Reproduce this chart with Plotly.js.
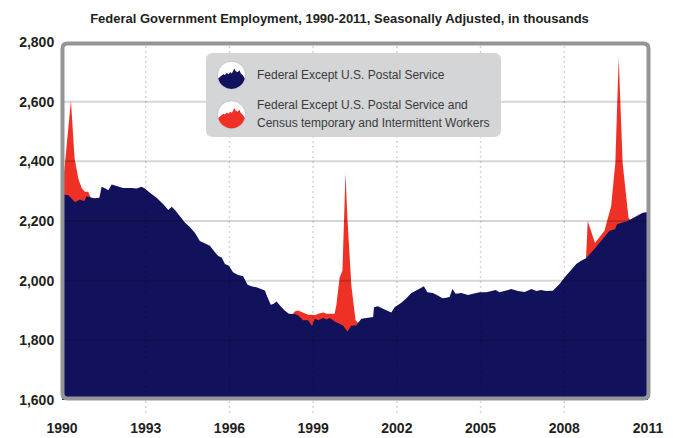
<!DOCTYPE html>
<html>
<head>
<meta charset="utf-8">
<script src="https://cdn.plot.ly/plotly-3.0.1.min.js"></script>
<style>
  html, body { margin: 0; padding: 0; background: #ffffff; }
  #chart { width: 673px; height: 438px; }
</style>
</head>
<body>
<div id="chart"></div>
<script>
// ---- Data, values in thousands ----
const exPostalYears = [1990.00,1990.23,1990.47,1990.64,1990.79,1990.88,1991.00,1991.15,1991.34,1991.42,1991.54,1991.66,1991.78,1991.96,1992.19,1992.50,1992.67,1992.85,1992.97,1993.15,1993.39,1993.63,1993.81,1993.93,1994.05,1994.22,1994.40,1994.58,1994.76,1994.94,1995.12,1995.30,1995.48,1995.60,1995.72,1995.84,1995.98,1996.13,1996.31,1996.49,1996.65,1996.79,1996.97,1997.15,1997.27,1997.36,1997.48,1997.57,1997.69,1997.81,1997.98,1998.13,1998.28,1998.34,1998.46,1998.64,1998.82,1998.96,1999.06,1999.18,1999.36,1999.48,1999.60,1999.77,1999.95,2000.07,2000.23,2000.37,2000.55,2000.61,2000.73,2000.97,2001.15,2001.18,2001.32,2001.56,2001.80,2001.92,2002.16,2002.34,2002.52,2002.76,2002.97,2003.09,2003.29,2003.47,2003.63,2003.77,2003.89,2003.99,2004.11,2004.31,2004.55,2004.73,2004.97,2005.21,2005.39,2005.54,2005.68,2005.86,2006.10,2006.34,2006.58,2006.82,2007.00,2007.17,2007.35,2007.59,2007.71,2007.83,2008.01,2008.22,2008.43,2008.60,2008.78,2009.08,2009.44,2009.62,2009.82,2009.89,2010.27,2010.58,2010.81,2011.00];
const exPostalValues = [2290,2286,2263,2272,2266,2283,2280,2276,2278,2315,2310,2303,2322,2317,2311,2311,2309,2315,2309,2295,2278,2256,2237,2248,2237,2217,2195,2180,2161,2133,2126,2117,2095,2083,2078,2056,2050,2028,2019,2015,1986,1981,1978,1970,1967,1945,1919,1922,1930,1917,1900,1889,1889,1888,1884,1867,1867,1848,1872,1867,1875,1870,1875,1863,1856,1850,1830,1850,1850,1859,1872,1875,1878,1911,1914,1903,1893,1911,1926,1941,1959,1970,1981,1961,1959,1950,1941,1943,1945,1972,1956,1959,1952,1956,1961,1961,1965,1969,1961,1965,1972,1965,1962,1972,1965,1969,1965,1966,1978,1989,2011,2035,2056,2067,2075,2106,2145,2167,2172,2189,2200,2217,2228,2230];

// Series including Census temporary and intermittent workers (only where it differs; null = break)
const censusYears  = [1990.00,1990.32,1990.45,1990.59,1990.71,1990.82,1990.94,1991.03,null,
                      1998.28,1998.34,1998.46,1998.64,1998.82,1998.96,1999.06,1999.18,1999.36,1999.48,1999.60,1999.77,1999.83,1999.95,2000.05,2000.16,2000.23,2000.37,2000.52,2000.61,null,
                      2008.78,2008.84,2009.10,2009.44,2009.68,2009.83,2009.95,2010.09,2010.30,2010.40];
const censusValues = [2290,2603,2410,2340,2310,2298,2298,2278,null,
                      1889,1897,1900,1893,1886,1886,1884,1889,1893,1889,1890,1889,1917,2011,2033,2361,2206,1983,1867,1858,null,
                      2075,2200,2126,2167,2250,2395,2748,2395,2211,2200];

const yearTicks = [1990,1993,1996,1999,2002,2005,2008,2011];
const yearLabels = ['1990','1993','1996','1999','2002','2005','2008','2011'];
const valueTicks = [1600,1800,2000,2200,2400,2600,2800];
const valueLabels = ['1,600','1,800','2,000','2,200','2,400','2,600','2,800'];

const seriesNames = ['Federal Except U.S. Postal Service',
                     'Federal Except U.S. Postal Service and',
                     'Census temporary and Intermittent Workers'];

// ---- Styling / geometry ----
const NAVY = '#12125c';
const RED = '#ee3124';
const W = 673, H = 438;
const PL = 62, PR = 648, PT = 42, PB = 400;   // plot area in pixels
const FONT = '"Liberation Sans", Arial, sans-serif';

function P(x, y) { return [(x - PL) / (PR - PL), (PB - y) / (PB - PT)]; }
function pt(x, y) { const p = P(x, y); return p[0].toFixed(5) + ',' + p[1].toFixed(5); }
function roundRect(x0, y0, x1, y1, r) {
  return 'M' + pt(x0 + r, y0) + ' L' + pt(x1 - r, y0) + ' Q' + pt(x1, y0) + ' ' + pt(x1, y0 + r) +
         ' L' + pt(x1, y1 - r) + ' Q' + pt(x1, y1) + ' ' + pt(x1 - r, y1) +
         ' L' + pt(x0 + r, y1) + ' Q' + pt(x0, y1) + ' ' + pt(x0, y1 - r) +
         ' L' + pt(x0, y0 + r) + ' Q' + pt(x0, y0) + ' ' + pt(x0 + r, y0) + ' Z';
}
function circlePath(cx, cy, r) {
  let s = '';
  for (let i = 0; i <= 48; i++) {
    const a = i / 48 * Math.PI * 2;
    s += (i === 0 ? 'M' : ' L') + pt(cx + r * Math.cos(a), cy + r * Math.sin(a));
  }
  return s + ' Z';
}
// mountain silhouette icon (relative pixel offsets, y down)
const ridge = [[-13.3,3.3],[-10.7,1],[-8,-1],[-6.5,-0.3],[-4.7,-2.3],[-2.7,-1],[-1.3,-3.3],[0.3,-1.7],[2,-5],[3,-6.7],[4,-4.3],[6,-3],[8,-5],[9.3,-1.7],[11.3,0],[13.3,3.3]];
function silhouettePath(cx, cy, r) {
  let s = '';
  ridge.forEach((d, i) => { s += (i === 0 ? 'M' : ' L') + pt(cx + d[0], cy + d[1]); });
  const a0 = Math.atan2(3.3, 13.3), a1 = Math.PI - a0;
  for (let i = 1; i < 24; i++) {
    const a = a0 + (a1 - a0) * i / 24;
    s += ' L' + pt(cx + r * Math.cos(a), cy + r * Math.sin(a));
  }
  return s + ' Z';
}

// ---- Traces ----
const traces = [];
let segX = [], segY = [];
const segs = [];
censusYears.forEach((x, i) => {
  if (x === null) { if (segX.length) segs.push([segX, segY]); segX = []; segY = []; }
  else { segX.push(x); segY.push(censusValues[i]); }
});
if (segX.length) segs.push([segX, segY]);
segs.forEach(s => traces.push({
  x: s[0], y: s[1], type: 'scatter', mode: 'lines', fill: 'tozeroy',
  fillcolor: RED, line: { width: 0, color: RED }, hoverinfo: 'skip', showlegend: false,
  name: seriesNames[1] + ' ' + seriesNames[2]
}));
traces.push({
  x: exPostalYears, y: exPostalValues, type: 'scatter', mode: 'lines', fill: 'tozeroy',
  fillcolor: NAVY, line: { width: 0, color: NAVY }, hoverinfo: 'skip', showlegend: false,
  name: seriesNames[0]
});

// ---- Shapes ----
const shapes = [];
valueTicks.slice(1, -1).forEach(v => shapes.push({
  type: 'line', layer: 'above', xref: 'paper', x0: 0, x1: 1, yref: 'y', y0: v, y1: v,
  line: { color: 'rgba(0,0,0,0.16)', width: 2 }
}));
yearTicks.slice(1, -1).forEach(v => shapes.push({
  type: 'line', layer: 'above', xref: 'x', x0: v, x1: v, yref: 'paper',
  y0: P(0, 413)[1], y1: 1,
  line: { color: 'rgba(0,0,0,0.17)', width: 1.5, dash: '2px,3px' }
}));
// frame
shapes.push({ type: 'path', layer: 'above', xref: 'paper', yref: 'paper',
  path: roundRect(62.5, 43.5, 648.5, 398.5, 5), fillcolor: 'rgba(0,0,0,0)',
  line: { color: '#939598', width: 4 } });
// legend box
shapes.push({ type: 'path', layer: 'above', xref: 'paper', yref: 'paper',
  path: roundRect(206, 53, 501, 137, 7), fillcolor: '#d4d5d7', line: { width: 0 } });
const icons = [[231.5, 75.3, NAVY], [231.5, 114.8, RED]];
icons.forEach(ic => {
  shapes.push({ type: 'path', layer: 'above', xref: 'paper', yref: 'paper',
    path: circlePath(ic[0], ic[1], 14), fillcolor: '#ffffff', line: { color: '#c4c5c8', width: 1 } });
  shapes.push({ type: 'path', layer: 'above', xref: 'paper', yref: 'paper',
    path: silhouettePath(ic[0], ic[1], 13.6), fillcolor: ic[2], line: { width: 0 } });
});

// ---- Annotations (legend text) ----
const annotations = [
  { text: seriesNames[0], x: P(255, 0)[0], y: P(0, 75)[1] },
  { text: seriesNames[1], x: P(255, 0)[0], y: P(0, 105)[1] },
  { text: seriesNames[2], x: P(255, 0)[0], y: P(0, 123)[1] }
].map(a => Object.assign(a, {
  xref: 'paper', yref: 'paper', xanchor: 'left', yanchor: 'middle', showarrow: false,
  font: { family: FONT, size: 12, color: '#3a3a3a' }
}));

const layout = {
  width: W, height: H,
  margin: { l: PL, r: W - PR, t: PT, b: H - PB, pad: 0 },
  paper_bgcolor: '#ffffff', plot_bgcolor: '#ffffff',
  showlegend: false,
  title: {
    text: 'Federal Government Employment, 1990-2011, Seasonally Adjusted, in thousands',
    font: { family: FONT, size: 13, color: '#231f20', weight: 'bold' },
    x: 339.5 / W, xref: 'container', xanchor: 'center',
    y: 1 - 18 / H, yref: 'container', yanchor: 'middle'
  },
  xaxis: {
    range: [1990, 2011], tickvals: yearTicks, ticktext: yearLabels,
    showgrid: false, zeroline: false, showline: false,
    ticks: 'outside', ticklen: 15, tickcolor: 'rgba(0,0,0,0)',
    tickfont: { family: FONT, size: 14, color: '#231f20', weight: 'bold' },
    fixedrange: true
  },
  yaxis: {
    range: [1600, 2800], tickvals: valueTicks, ticktext: valueLabels,
    showgrid: false, zeroline: false, showline: false,
    ticks: 'outside', ticklen: 4, tickcolor: 'rgba(0,0,0,0)',
    tickfont: { family: FONT, size: 14, color: '#231f20', weight: 'bold' },
    fixedrange: true
  },
  shapes: shapes,
  annotations: annotations
};

Plotly.newPlot('chart', traces, layout, { displayModeBar: false, staticPlot: true });
</script>
</body>
</html>
